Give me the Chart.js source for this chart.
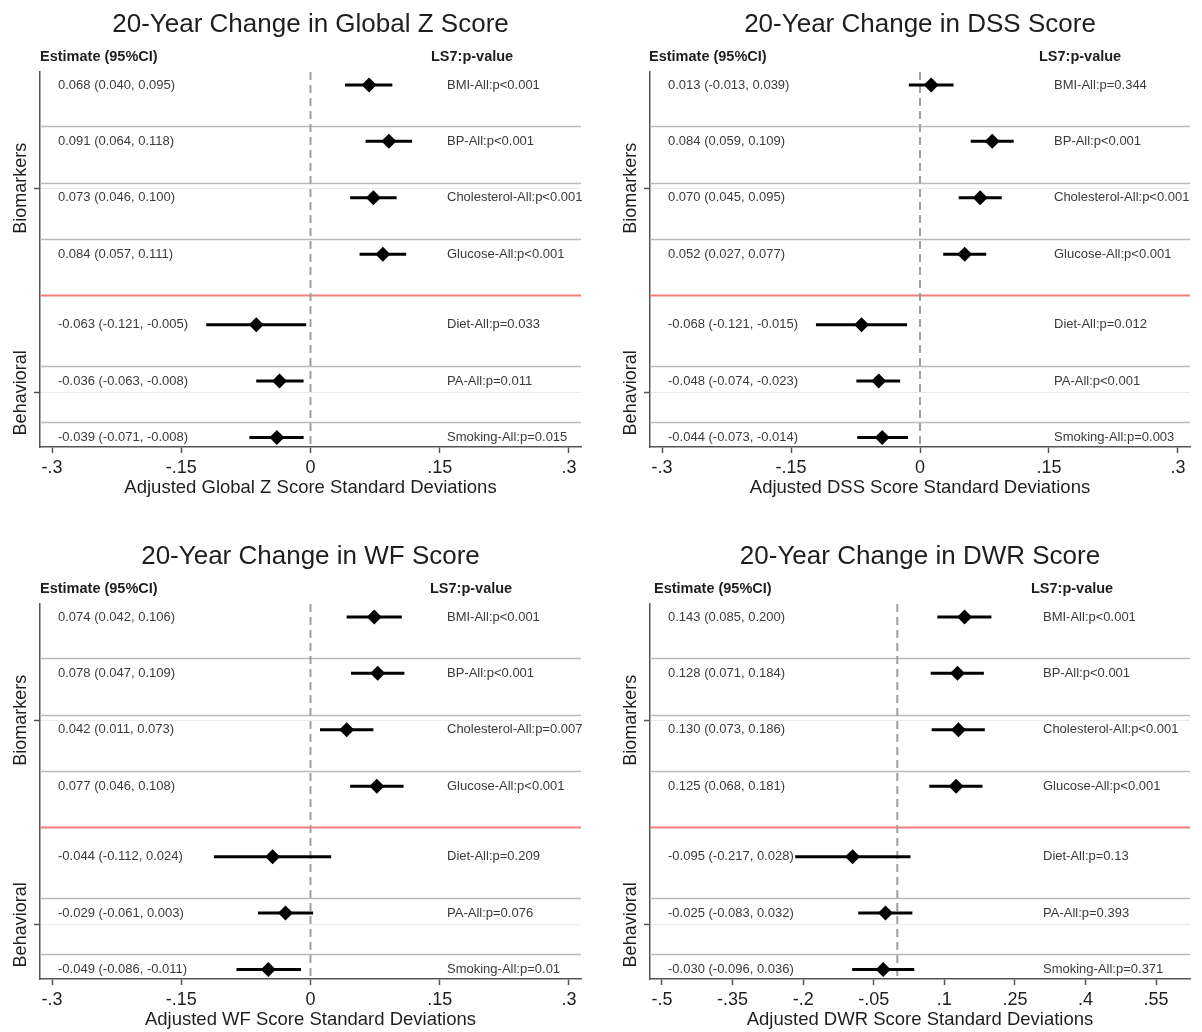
<!DOCTYPE html>
<html><head><meta charset="utf-8">
<script src="https://cdn.jsdelivr.net/npm/chart.js@4"></script>
<style>
html,body{margin:0;padding:0;background:#fff;}
#wrap{position:relative;width:1202px;height:1032px;overflow:hidden;background:#fff;}
canvas{position:absolute;}
</style></head><body>
<div id="wrap">
<canvas id="c0" width="610" height="532" style="left:0px;top:0px"></canvas>
<canvas id="c1" width="592" height="532" style="left:610px;top:0px"></canvas>
<canvas id="c2" width="610" height="500" style="left:0px;top:532px"></canvas>
<canvas id="c3" width="592" height="500" style="left:610px;top:532px"></canvas>
</div>
<script>
// ---------- data ----------
const categories = ['BMI', 'BP', 'Cholesterol', 'Glucose', 'Diet', 'PA', 'Smoking'];
const groupNames = ['Biomarkers', 'Behavioral'];
const groupSizes = [4, 3];

const globalZEst = [0.068, 0.091, 0.073, 0.084, -0.063, -0.036, -0.039];
const globalZLo  = [0.040, 0.064, 0.046, 0.057, -0.121, -0.063, -0.071];
const globalZHi  = [0.095, 0.118, 0.100, 0.111, -0.005, -0.008, -0.008];
const globalZP   = ['p<0.001', 'p<0.001', 'p<0.001', 'p<0.001', 'p=0.033', 'p=0.011', 'p=0.015'];

const dssEst = [0.013, 0.084, 0.070, 0.052, -0.068, -0.048, -0.044];
const dssLo  = [-0.013, 0.059, 0.045, 0.027, -0.121, -0.074, -0.073];
const dssHi  = [0.039, 0.109, 0.095, 0.077, -0.015, -0.023, -0.014];
const dssP   = ['p=0.344', 'p<0.001', 'p<0.001', 'p<0.001', 'p=0.012', 'p<0.001', 'p=0.003'];

const wfEst = [0.074, 0.078, 0.042, 0.077, -0.044, -0.029, -0.049];
const wfLo  = [0.042, 0.047, 0.011, 0.046, -0.112, -0.061, -0.086];
const wfHi  = [0.106, 0.109, 0.073, 0.108, 0.024, 0.003, -0.011];
const wfP   = ['p<0.001', 'p<0.001', 'p=0.007', 'p<0.001', 'p=0.209', 'p=0.076', 'p=0.01'];

const dwrEst = [0.143, 0.128, 0.130, 0.125, -0.095, -0.025, -0.030];
const dwrLo  = [0.085, 0.071, 0.073, 0.068, -0.217, -0.083, -0.096];
const dwrHi  = [0.200, 0.184, 0.186, 0.181, 0.028, 0.032, 0.036];
const dwrP   = ['p<0.001', 'p<0.001', 'p<0.001', 'p<0.001', 'p=0.13', 'p=0.393', 'p=0.371'];

const ticks03Vals   = [-0.3, -0.15, 0, 0.15, 0.3];
const ticks03Labels = ['-.3', '-.15', '0', '.15', '.3'];
const ticksDwrVals   = [-0.5, -0.35, -0.2, -0.05, 0.1, 0.25, 0.4, 0.55];
const ticksDwrLabels = ['-.5', '-.35', '-.2', '-.05', '.1', '.25', '.4', '.55'];

const titles = ['20-Year Change in Global Z Score', '20-Year Change in DSS Score',
                '20-Year Change in WF Score', '20-Year Change in DWR Score'];
const xTitles = ['Adjusted Global Z Score Standard Deviations', 'Adjusted DSS Score Standard Deviations',
                 'Adjusted WF Score Standard Deviations', 'Adjusted DWR Score Standard Deviations'];

// ---------- layout (not data) ----------
const FONT = "'Liberation Sans', Arial, Helvetica, sans-serif";
const groupGap = 0.25;
const rowPos = categories.map((c, i) => i + 1 + (i >= groupSizes[0] ? groupGap : 0));
const groupTickPos = [2.83, 6.46];
const sepOffset = 0.27;
const redPos = 4.72;

const panels = [
  {id: 'c0', est: globalZEst, lo: globalZLo, hi: globalZHi, p: globalZP, tv: ticks03Vals, tl: ticks03Labels,
   min: -0.314, max: 0.314, right: 581, estHX: 40, ls7X: 431, pX: 447},
  {id: 'c1', est: dssEst, lo: dssLo, hi: dssHi, p: dssP, tv: ticks03Vals, tl: ticks03Labels,
   min: -0.314, max: 0.314, right: 580, estHX: 39, ls7X: 429, pX: 444},
  {id: 'c2', est: wfEst, lo: wfLo, hi: wfHi, p: wfP, tv: ticks03Vals, tl: ticks03Labels,
   min: -0.314, max: 0.314, right: 581, estHX: 40, ls7X: 430, pX: 447},
  {id: 'c3', est: dwrEst, lo: dwrLo, hi: dwrHi, p: dwrP, tv: ticksDwrVals, tl: ticksDwrLabels,
   min: -0.5255, max: 0.622, right: 580, estHX: 44, ls7X: 421, pX: 433}
];

const CH_TOP = 72, CH_BOTTOM = 447, Y_W = 40, X_H = 51.8;

function makePlugin(pi, pan) {
  return {
    id: 'forest' + pi,
    beforeDatasetsDraw(chart) {
      const {ctx, chartArea: a, scales: {x, y}} = chart;
      ctx.save();
      const hline = (v, color, w) => {
        const py = Math.round(y.getPixelForValue(v)) + 0.5;
        ctx.strokeStyle = color; ctx.lineWidth = w;
        ctx.beginPath(); ctx.moveTo(a.left, py); ctx.lineTo(a.right, py); ctx.stroke();
      };
      rowPos.forEach((v, i) => {
        if (i === 0 || i === groupSizes[0]) return;
        hline(v - sepOffset, '#bababa', 1.5);
      });
      hline(redPos, '#f27d7d', 2);
      const px = x.getPixelForValue(0);
      ctx.setLineDash([8, 5]);
      ctx.strokeStyle = '#a0a0a0'; ctx.lineWidth = 2;
      ctx.beginPath(); ctx.moveTo(px, a.top); ctx.lineTo(px, a.bottom); ctx.stroke();
      ctx.restore();
    },
    afterDraw(chart) {
      const {ctx, chartArea: a, scales: {y}} = chart;
      ctx.save();
      // title
      ctx.fillStyle = '#1e1e1e';
      ctx.font = '26px ' + FONT;
      ctx.textAlign = 'center'; ctx.textBaseline = 'alphabetic';
      ctx.fillText(titles[pi], (a.left + a.right) / 2, 31.5);
      // headers
      ctx.font = 'bold 14.5px ' + FONT;
      ctx.textAlign = 'left'; ctx.textBaseline = 'middle';
      ctx.fillText('Estimate (95%CI)', pan.estHX, 57);
      ctx.fillText('LS7:p-value', pan.ls7X, 57);
      // row texts
      ctx.font = '13px ' + FONT;
      ctx.fillStyle = '#3a3a3a';
      categories.forEach((c, i) => {
        const py = y.getPixelForValue(rowPos[i]);
        const t = pan.est[i].toFixed(3) + ' (' + pan.lo[i].toFixed(3) + ', ' + pan.hi[i].toFixed(3) + ')';
        ctx.fillText(t, a.left + 18, py);
        ctx.fillText(c + '-All:' + pan.p[i], pan.pX, py);
      });
      // group labels (rotated)
      ctx.font = '18px ' + FONT;
      ctx.fillStyle = '#1e1e1e';
      ctx.textAlign = 'center'; ctx.textBaseline = 'middle';
      groupNames.forEach((g, gi) => {
        const py = y.getPixelForValue(groupTickPos[gi]);
        ctx.save();
        ctx.translate(21, py);
        ctx.rotate(-Math.PI / 2);
        ctx.fillText(g, 0, 0);
        ctx.restore();
      });
      ctx.restore();
    }
  };
}

panels.forEach((pan, pi) => {
  const canvas = document.getElementById(pan.id);
  const W = canvas.width, H = canvas.height;
  const datasets = [];
  categories.forEach((c, i) => {
    datasets.push({
      type: 'line',
      data: [{x: pan.lo[i], y: rowPos[i]}, {x: pan.hi[i], y: rowPos[i]}],
      borderColor: '#000', borderWidth: 3, pointRadius: 0, fill: false, showLine: true, order: 2
    });
  });
  datasets.push({
    type: 'scatter',
    data: categories.map((c, i) => ({x: pan.est[i], y: rowPos[i]})),
    pointStyle: 'rectRot', pointRadius: 7.5, backgroundColor: '#000', borderColor: '#000', borderWidth: 0, order: 1
  });
  new Chart(canvas, {
    type: 'scatter',
    data: {datasets},
    options: {
      responsive: false, animation: false, devicePixelRatio: 1,
      layout: {padding: {top: CH_TOP, left: 0, right: W - pan.right, bottom: H - CH_BOTTOM - X_H}},
      plugins: {legend: {display: false}, tooltip: {enabled: false}, title: {display: false}},
      scales: {
        x: {
          type: 'linear', min: pan.min, max: pan.max,
          afterBuildTicks: s => { s.ticks = pan.tv.map(v => ({value: v})); },
          afterFit: s => { s.height = X_H; },
          ticks: {autoSkip: false, maxRotation: 0, minRotation: 0, padding: 4,
                  color: '#1e1e1e', font: {family: FONT, size: 18},
                  callback: (v, i) => pan.tl[i]},
          grid: {display: true, drawOnChartArea: false, drawTicks: true, tickLength: 6,
                 tickColor: '#555', tickWidth: 1.5},
          border: {display: true, color: '#555', width: 1.5},
          title: {display: true, text: xTitles[pi], color: '#1e1e1e',
                  font: {family: FONT, size: 18.5}, padding: {top: 0, bottom: 0}}
        },
        y: {
          type: 'linear', reverse: true, min: 0.77, max: 7.42,
          afterBuildTicks: s => { s.ticks = groupTickPos.map(v => ({value: v})); },
          afterFit: s => { s.width = Y_W; },
          ticks: {callback: () => '', padding: 0},
          grid: {display: true, drawOnChartArea: true, color: '#e6eee6', lineWidth: 1,
                 drawTicks: true, tickLength: 6, tickColor: '#555', tickWidth: 1.5},
          border: {display: true, color: '#555', width: 1.5}
        }
      }
    },
    plugins: [makePlugin(pi, pan)]
  });
});
</script>
</body></html>
